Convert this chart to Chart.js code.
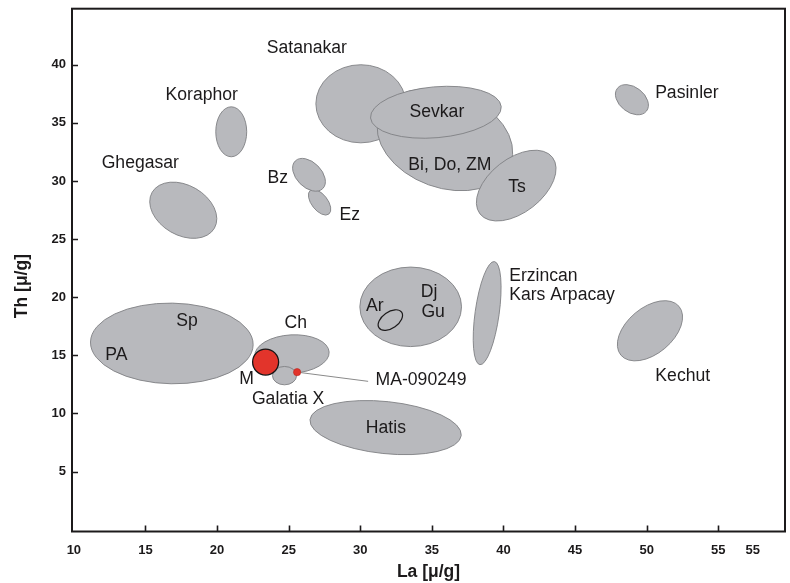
<!DOCTYPE html>
<html>
<head>
<meta charset="utf-8">
<script src="https://cdn.jsdelivr.net/npm/chart.js@4.4.0/dist/chart.umd.min.js"></script>
<style>
  html, body { margin: 0; padding: 0; background: #fff; }
  #wrap { width: 790px; height: 583px; }
</style>
</head>
<body>
<div id="wrap"><canvas id="laTh" width="790" height="583"></canvas></div>

<script>
//------------------------------------------------------------------------------------------
// Data: La vs Th (ug/g)
//------------------------------------------------------------------------------------------

// provenance fields: centre, half spread along each axis, tilt of the field (deg)
var fieldNames = ['PA / Sp', 'Ghegasar', 'Koraphor', 'Satanakar', 'Bi, Do, ZM', 'Ts', 'Sevkar', 'Ez', 'Bz',
                  'Pasinler', 'Dj, Gu', 'Ar', 'Erzincan, Kars Arpacay', 'Kechut', 'Ch', 'Galatia X', 'Hatis'];
var fieldLa    = [16.84, 17.64, 20.99, 30.04, 35.91, 40.89, 35.28, 27.16, 26.42, 48.97, 33.52, 32.10, 38.86, 50.23, 25.23, 24.71, 31.77];
var fieldTh    = [16.02, 27.48, 34.23, 36.64, 33.55, 29.60, 35.91, 28.17, 30.53, 36.99, 19.17, 18.03, 18.63, 17.11, 15.11, 13.25, 8.78];
var spreadLa   = [5.68, 2.51, 1.08, 3.14, 4.89, 3.21, 4.58, 1.05, 1.36, 1.29, 3.55, 0.96, 0.84, 2.65, 2.60, 0.84, 5.31];
var spreadTh   = [3.47, 2.15, 2.15, 3.36, 4.13, 2.32, 2.19, 0.69, 1.08, 1.08, 3.42, 0.70, 4.48, 1.98, 1.65, 0.79, 2.24];
var tiltDeg    = [1, 30, 0, 0, 20, -38, -5, 52, 45, 38, 0, -35, 8, -40, -3, 0, 6];
var openFields = ['Ar'];

// samples
var sampleNames = ['M', 'MA-090249'];
var sampleLa    = [23.39, 25.59];
var sampleTh    = [14.42, 13.55];

// leader from MA-090249 to its label
var leaderLa = [25.59, 30.55];
var leaderTh = [13.55, 12.76];

// field / sample labels
var labelText = ['Satanakar', 'Koraphor', 'Ghegasar', 'Sevkar', 'Bi, Do, ZM', 'Ts', 'Bz', 'Ez', 'Pasinler',
                 'Dj', 'Gu', 'Ar', 'Erzincan', 'Kars Arpacay', 'Sp', 'PA', 'Ch', 'M', 'Galatia X',
                 'MA-090249', 'Hatis', 'Kechut'];
var labelLa   = [26.27, 18.93, 14.64, 35.35, 36.26, 40.94, 24.24, 29.27, 52.81,
                 34.81, 35.09, 31.02, 40.40, 40.40, 17.91, 12.97, 25.50, 22.06, 24.96,
                 31.07, 31.79, 52.52];
var labelTh   = [41.44, 37.38, 31.57, 35.96, 31.39, 29.49, 30.27, 27.09, 37.59,
                 20.40, 18.68, 19.20, 21.84, 20.21, 17.91, 15.04, 17.80, 12.95, 11.26,
                 12.89, 8.69, 13.24];
var leftLabels = ['Erzincan', 'Kars Arpacay', 'MA-090249'];

// axes
var xTickValues = [10, 15, 20, 25, 30, 35, 40, 45, 50, 55, 57.4];
var xTickLabels = ['10', '15', '20', '25', '30', '35', '40', '45', '50', '55', '55'];
var xMarks      = [15, 20, 25, 30, 35, 40, 45, 50, 55];
var yTickValues = [5, 10, 15, 20, 25, 30, 35, 40];
var yTitle      = 'Th [μ/g]';

//------------------------------------------------------------------------------------------
// Styles
//------------------------------------------------------------------------------------------
var FIELD_FILL = '#b8b9bd';
var FIELD_EDGE = '#7f8083';
var INK = '#1c1a1b';
var TICK_FONT = "'Liberation Sans', Arial, Helvetica, sans-serif";
var LABEL_FONT = "'Liberation Sans', Arial, Helvetica, sans-serif";

//------------------------------------------------------------------------------------------
// fields, leader, labels, frame and inner tick marks
var fieldPlugin = {
    id: 'fields',
    beforeDatasetsDraw: function(chart) {
        var ctx = chart.ctx, xs = chart.scales.x, ys = chart.scales.y;
        ctx.save();
        for (var i = 0; i < fieldNames.length; i++) {
            var px = xs.getPixelForValue(fieldLa[i]);
            var py = ys.getPixelForValue(fieldTh[i]);
            var rx = Math.abs(xs.getPixelForValue(fieldLa[i] + spreadLa[i]) - px);
            var ry = Math.abs(ys.getPixelForValue(fieldTh[i] + spreadTh[i]) - py);
            ctx.beginPath();
            ctx.ellipse(px, py, rx, ry, tiltDeg[i] * Math.PI / 180, 0, 2 * Math.PI);
            if (openFields.indexOf(fieldNames[i]) < 0) {
                ctx.fillStyle = FIELD_FILL;
                ctx.fill();
                ctx.strokeStyle = FIELD_EDGE;
                ctx.lineWidth = 0.9;
            } else {
                ctx.strokeStyle = INK;
                ctx.lineWidth = 1.2;
            }
            ctx.stroke();
        }
        // leader line
        ctx.beginPath();
        ctx.moveTo(xs.getPixelForValue(leaderLa[0]), ys.getPixelForValue(leaderTh[0]));
        ctx.lineTo(xs.getPixelForValue(leaderLa[1]), ys.getPixelForValue(leaderTh[1]));
        ctx.strokeStyle = '#8a8a8a';
        ctx.lineWidth = 1;
        ctx.stroke();
        ctx.restore();
    },
    afterDatasetsDraw: function(chart) {
        var ctx = chart.ctx, xs = chart.scales.x, ys = chart.scales.y, a = chart.chartArea;
        ctx.save();
        ctx.fillStyle = INK;
        ctx.font = '17.6px ' + LABEL_FONT;
        ctx.textBaseline = 'middle';
        for (var i = 0; i < labelText.length; i++) {
            ctx.textAlign = leftLabels.indexOf(labelText[i]) < 0 ? 'center' : 'left';
            ctx.fillText(labelText[i], xs.getPixelForValue(labelLa[i]), ys.getPixelForValue(labelTh[i]));
        }
        // y title, set a little below the middle as in the original
        ctx.save();
        ctx.translate(22, (a.top + a.bottom) / 2 + 16);
        ctx.rotate(-Math.PI / 2);
        ctx.textAlign = 'center';
        ctx.font = 'bold 17.5px ' + TICK_FONT;
        ctx.fillText(yTitle, 0, 0);
        ctx.restore();
        // frame
        ctx.strokeStyle = INK;
        ctx.lineWidth = 2;
        ctx.strokeRect(a.left, a.top, a.right - a.left, a.bottom - a.top);
        // tick marks pointing inwards
        ctx.lineWidth = 1.6;
        ctx.beginPath();
        xMarks.forEach(function(v) {
            var px = Math.round(xs.getPixelForValue(v)) + 0.5;
            ctx.moveTo(px, a.bottom);
            ctx.lineTo(px, a.bottom - 6);
        });
        yTickValues.forEach(function(v) {
            var py = Math.round(ys.getPixelForValue(v)) + 0.5;
            ctx.moveTo(a.left, py);
            ctx.lineTo(a.left + 6, py);
        });
        ctx.stroke();
        ctx.restore();
    }
};

//------------------------------------------------------------------------------------------
var samplePoints = [];
for (var i in sampleNames) {
    samplePoints.push({x: sampleLa[i], y: sampleTh[i]});
}

var ctxC = document.getElementById('laTh').getContext('2d');
var laThChart = new Chart(ctxC, {
    type: 'scatter',
    data: {
        datasets: [
            {
                label: 'samples',
                data: samplePoints,
                pointRadius: [13, 3.6],
                pointHoverRadius: [13, 3.6],
                pointBackgroundColor: '#e2342b',
                pointBorderColor: ['#161616', '#b8241d'],
                pointBorderWidth: [1.3, 0.6]
            }
        ]
    },
    options: {
        responsive: false,
        animation: false,
        devicePixelRatio: 1,
        layout: { autoPadding: false, padding: { top: 8.7, right: 5, left: 0, bottom: 0 } },
        plugins: { legend: { display: false }, tooltip: { enabled: false } },
        events: [],
        scales: {
            x: {
                type: 'linear',
                min: 9.87,
                max: 59.66,
                afterBuildTicks: function(s) {
                    s.ticks = xTickValues.map(function(v) { return {value: v}; });
                },
                afterFit: function(s) {
                    s.height = 51.5;
                    s.paddingLeft = 0;
                    s.paddingRight = 0;
                },
                grid: { display: false, drawTicks: false },
                border: { display: false },
                ticks: {
                    autoSkip: false,
                    maxRotation: 0,
                    padding: 11,
                    color: INK,
                    font: { family: TICK_FONT, size: 13, weight: 'bold' },
                    callback: function(value, index) { return xTickLabels[index]; }
                },
                title: {
                    display: true,
                    text: 'La [μ/g]',
                    color: INK,
                    font: { family: TICK_FONT, size: 17.5, weight: 'bold' },
                    padding: { top: 0, bottom: 0.5 }
                }
            },
            y: {
                type: 'linear',
                min: -0.16,
                max: 44.82,
                afterBuildTicks: function(s) {
                    s.ticks = yTickValues.map(function(v) { return {value: v}; });
                },
                afterFit: function(s) {
                    s.width = 72;
                    s.paddingTop = 0;
                    s.paddingBottom = 0;
                },
                grid: { display: false, drawTicks: false },
                border: { display: false },
                ticks: {
                    autoSkip: false,
                    padding: 6,
                    color: INK,
                    font: { family: TICK_FONT, size: 13, weight: 'bold' }
                },
                title: { display: false }
            }
        }
    },
    plugins: [fieldPlugin]
}); //Chart()
</script>
</body>
</html>
